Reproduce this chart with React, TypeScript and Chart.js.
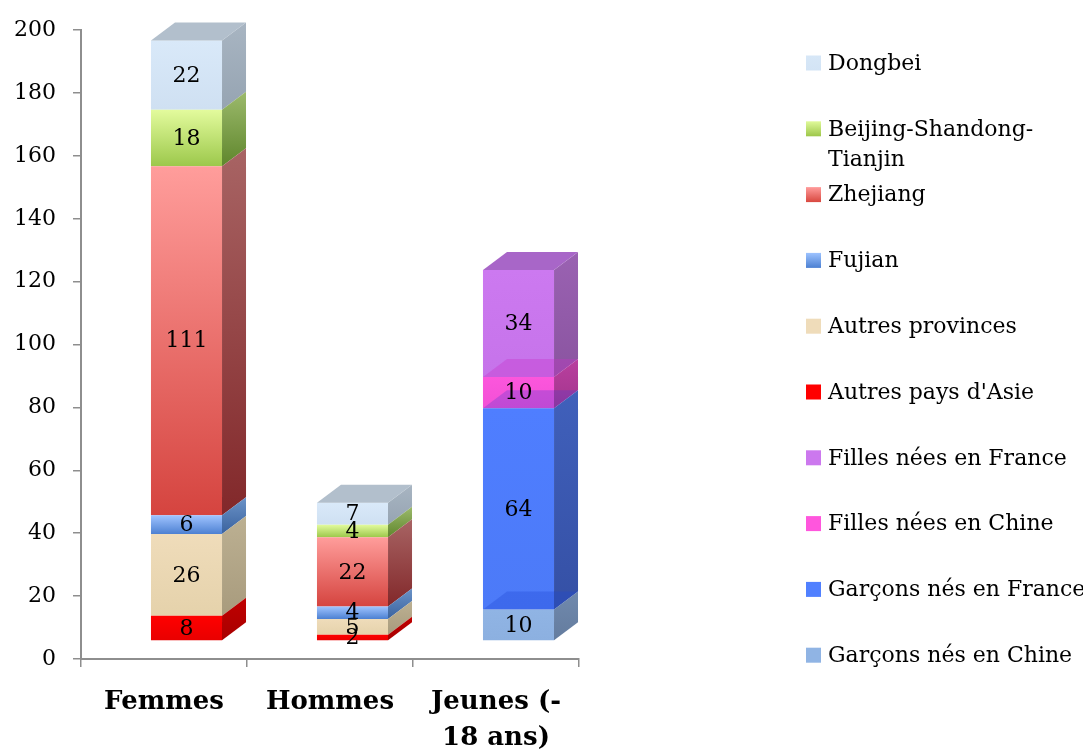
import React, { useEffect, useRef } from "react";
import { Chart, registerables } from "chart.js";

Chart.register(...registerables);

// ---------- DATA ----------
const categories: (string | string[])[] = [["Femmes"], ["Hommes"], ["Jeunes (-", "18 ans)"]];

// series in stacking order (bottom to top)
const seriesNames = [
  "Garçons nés en Chine",
  "Garçons nés en France",
  "Filles nées en Chine",
  "Filles nées en France",
  "Autres pays d'Asie",
  "Autres provinces",
  "Fujian",
  "Zhejiang",
  "Beijing-Shandong-Tianjin",
  "Dongbei",
];

const garconsChine = [0, 0, 10];
const garconsFrance = [0, 0, 64];
const fillesChine = [0, 0, 10];
const fillesFrance = [0, 0, 34];
const autresPaysAsie = [8, 2, 0];
const autresProvinces = [26, 5, 0];
const fujian = [6, 4, 0];
const zhejiang = [111, 22, 0];
const beijingShandongTianjin = [18, 4, 0];
const dongbei = [22, 7, 0];

const seriesValues = [
  garconsChine,
  garconsFrance,
  fillesChine,
  fillesFrance,
  autresPaysAsie,
  autresProvinces,
  fujian,
  zhejiang,
  beijingShandongTianjin,
  dongbei,
];

const yMin = 0;
const yMax = 200;
const yStep = 20;

// ---------- STYLES ----------
const frontTop = ["#90b4e4", "#4f7eff", "#fc56dc", "#cc79f0", "#ff0000", "#efdcba", "#a0c4ff", "#ff9d9b", "#e3fb9d", "#d9e9f9"];
const frontBottom = ["#8cb0e0", "#4c7af8", "#f250d6", "#c673ea", "#e80000", "#e5d2ab", "#4c80d2", "#d5443f", "#9cc84b", "#cfe0f2"];
const sideTop = ["#7089ad", "#4060bb", "#b9409f", "#9a62b2", "#c00000", "#bcb092", "#6b93c8", "#a86464", "#9cba6c", "#a8b5c2"];
const sideBottom = ["#647c9e", "#3550a5", "#a3348c", "#8a54a0", "#a80000", "#a89b7d", "#3a629e", "#82282a", "#5f862c", "#96a4b2"];
const topFace = ["#7d9ccb", "#3f66d6", "#d048b8", "#a866c8", "#d00000", "#cfc0a0", "#5a84c8", "#c46a68", "#8fb05a", "#b2bfcc"];
// inner top faces seen through translucent segments (only the "Jeunes" series)
const innerTop = [
  "rgba(30,70,210,0.32)",
  "rgba(80,60,210,0.30)",
  "rgba(200,50,200,0.35)",
  null, null, null, null, null, null, null,
];
const legendTop = ["#90b4e4", "#5080ff", "#ff56dd", "#cc78ee", "#ff0000", "#efdcba", "#9dc3ff", "#ff9b9b", "#e0fa9a", "#d7e7f7"];
const legendBottom = ["#90b4e4", "#5080ff", "#ff56dd", "#cc78ee", "#ff0000", "#efdcba", "#4c80d2", "#d8483f", "#9dc64a", "#d3e4f5"];

const FONT = "'DejaVu Serif', serif";
const DEPTH_X = 24;
const DEPTH_Y = -18;
const SHIFT_X = 22.5;
const SHIFT_Y = -18;

function stackStart(datasetIndex: number, dataIndex: number) {
  let s = 0;
  for (let i = 0; i < datasetIndex; i++) s += seriesValues[i][dataIndex];
  return s;
}

function isTopmost(datasetIndex: number, dataIndex: number) {
  for (let i = datasetIndex + 1; i < seriesValues.length; i++) {
    if (seriesValues[i][dataIndex] > 0) return false;
  }
  return true;
}

function topPath(ctx: any, left: number, right: number, top: number) {
  ctx.beginPath();
  ctx.moveTo(left, top);
  ctx.lineTo(left + DEPTH_X, top + DEPTH_Y);
  ctx.lineTo(right + DEPTH_X, top + DEPTH_Y);
  ctx.lineTo(right, top);
  ctx.closePath();
}

const threeDPlugin = {
  id: "threeD",
  beforeDatasetDraw(chart: any) {
    chart.ctx.save();
    chart.ctx.translate(SHIFT_X, SHIFT_Y);
  },
  afterDatasetDraw(chart: any, args: any) {
    const ctx = chart.ctx;
    const di = args.index;
    const meta = args.meta;
    meta.data.forEach((el: any, i: number) => {
      const v = seriesValues[di][i];
      if (!v) return;
      const p = el.getProps(["x", "y", "base", "width"], true);
      const left = p.x - p.width / 2;
      const right = p.x + p.width / 2;
      const top = Math.min(p.y, p.base);
      const bottom = Math.max(p.y, p.base);
      const g = ctx.createLinearGradient(0, top + DEPTH_Y, 0, bottom);
      g.addColorStop(0, sideTop[di]);
      g.addColorStop(1, sideBottom[di]);
      ctx.beginPath();
      ctx.moveTo(right, top);
      ctx.lineTo(right + DEPTH_X, top + DEPTH_Y);
      ctx.lineTo(right + DEPTH_X, bottom + DEPTH_Y);
      ctx.lineTo(right, bottom);
      ctx.closePath();
      ctx.fillStyle = g;
      ctx.fill();
      if (isTopmost(di, i)) {
        topPath(ctx, left, right, top);
        ctx.fillStyle = topFace[di];
        ctx.fill();
      } else if (innerTop[di]) {
        topPath(ctx, left, right, top);
        ctx.fillStyle = innerTop[di];
        ctx.fill();
      }
    });
    ctx.restore();
  },
  afterDatasetsDraw(chart: any) {
    const ctx = chart.ctx;
    ctx.save();
    ctx.translate(SHIFT_X, SHIFT_Y);
    ctx.font = `22px ${FONT}`;
    ctx.fillStyle = "#000";
    ctx.textAlign = "center";
    ctx.textBaseline = "middle";
    chart.data.datasets.forEach((ds: any, di: number) => {
      const meta = chart.getDatasetMeta(di);
      meta.data.forEach((el: any, i: number) => {
        const v = seriesValues[di][i];
        if (!v) return;
        const p = el.getProps(["x", "y", "base"], true);
        ctx.fillText(String(v), p.x, (p.y + p.base) / 2 + 1);
      });
    });
    ctx.restore();
  },
};

const legendPlugin = {
  id: "sideLegend",
  afterDraw(chart: any) {
    const ctx = chart.ctx;
    ctx.save();
    ctx.font = `22px ${FONT}`;
    ctx.textBaseline = "middle";
    ctx.textAlign = "left";
    const textX = 828;
    const boxX = 806;
    const box = 15;
    const startY = 63;
    const step = 65.8;
    const maxW = 270;
    const order = seriesNames.map((_, i) => i).reverse();
    order.forEach((di, k) => {
      const cy = startY + k * step;
      const g = ctx.createLinearGradient(0, cy - box / 2, 0, cy + box / 2);
      g.addColorStop(0, legendTop[di]);
      g.addColorStop(1, legendBottom[di]);
      ctx.fillStyle = g;
      ctx.fillRect(boxX, cy - box / 2, box, box);
      // wrap text at hyphens when too long
      const name = seriesNames[di];
      let lines: string[] = [name];
      if (ctx.measureText(name).width > maxW) {
        const parts = name.split("-");
        lines = [];
        let cur = "";
        parts.forEach((part, j) => {
          const piece = part + (j < parts.length - 1 ? "-" : "");
          if (cur && ctx.measureText(cur + piece).width > maxW) {
            lines.push(cur);
            cur = piece;
          } else cur += piece;
        });
        if (cur) lines.push(cur);
      }
      ctx.fillStyle = "#000";
      lines.forEach((ln, j) => ctx.fillText(ln, textX, cy + 1 + j * 30));
    });
    ctx.restore();
  },
};

function makeFill(di: number) {
  return (c: any) => {
    const chart = c.chart;
    const y = chart.scales && chart.scales.y;
    if (!chart.chartArea || !y || c.dataIndex === undefined) return frontTop[di];
    const i = c.dataIndex;
    const s = stackStart(di, i);
    const e = s + seriesValues[di][i];
    const y0 = y.getPixelForValue(e);
    const y1 = y.getPixelForValue(s);
    if (!isFinite(y0) || !isFinite(y1) || y0 === y1) return frontTop[di];
    const g = chart.ctx.createLinearGradient(0, y0, 0, y1);
    g.addColorStop(0, frontTop[di]);
    g.addColorStop(1, frontBottom[di]);
    return g;
  };
}

export default function App() {
  const ref = useRef<HTMLCanvasElement | null>(null);
  useEffect(() => {
    if (!ref.current) return;
    const axisColor = "#8e8e8e";
    const chart = new Chart(ref.current, {
      type: "bar",
      data: {
        labels: categories as any,
        datasets: seriesNames.map((name, di) => ({
          label: name,
          data: seriesValues[di],
          backgroundColor: makeFill(di),
          borderWidth: 0,
          categoryPercentage: 1,
          barPercentage: 0.428,
          clip: false as any,
        })),
      },
      options: {
        animation: false,
        responsive: false,
        maintainAspectRatio: false,
        layout: { padding: { top: 25, right: 504, bottom: 0, left: 0 } },
        plugins: {
          legend: { display: false },
          tooltip: { enabled: false },
        },
        scales: {
          x: {
            stacked: true,
            offset: true,
            grid: {
              display: true,
              drawOnChartArea: false,
              drawTicks: true,
              tickLength: 8,
              color: axisColor,
              lineWidth: 1.5,
              offset: true,
            },
            border: { display: true, color: axisColor, width: 2 },
            ticks: {
              color: "#000",
              font: { family: FONT, size: 26, weight: "bold", lineHeight: 1.4 },
              padding: 17,
              maxRotation: 0,
              autoSkip: false,
            },
            afterFit: (s: any) => {
              s.height = 90;
            },
          },
          y: {
            stacked: true,
            min: yMin,
            max: yMax,
            ticks: {
              stepSize: yStep,
              color: "#000",
              font: { family: FONT, size: 22 },
              padding: 17,
            },
            grid: {
              display: true,
              drawOnChartArea: false,
              drawTicks: true,
              tickLength: 8,
              color: axisColor,
              lineWidth: 1.5,
            },
            border: { display: true, color: axisColor, width: 2 },
            afterFit: (s: any) => {
              s.width = 81;
            },
          },
        },
      } as any,
      plugins: [threeDPlugin, legendPlugin],
    });
    return () => chart.destroy();
  }, []);
  return (
    <div style={{ position: "absolute", left: 0, top: 0, width: 1083, height: 749, background: "#fff" }}>
      <canvas ref={ref} width={1083} height={749} style={{ width: 1083, height: 749, display: "block" }} />
    </div>
  );
}
